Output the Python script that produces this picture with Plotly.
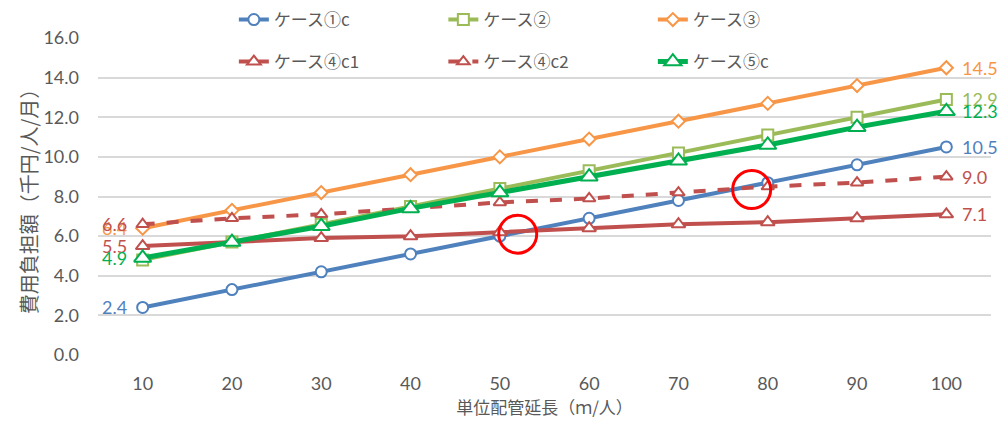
import plotly.graph_objects as go

# 単位配管延長 (m/人)
lengths = [10, 20, 30, 40, 50, 60, 70, 80, 90, 100]

# 費用負担額 (千円/人/月)
case1c = [2.4, 3.3, 4.2, 5.1, 6.0, 6.9, 7.8, 8.7, 9.6, 10.5]
case2 = [4.8, 5.7, 6.6, 7.5, 8.4, 9.3, 10.2, 11.1, 12.0, 12.9]
case3 = [6.4, 7.3, 8.2, 9.1, 10.0, 10.9, 11.8, 12.7, 13.6, 14.5]
case4c1 = [5.5, 5.7, 5.9, 6.0, 6.2, 6.4, 6.6, 6.7, 6.9, 7.1]
case4c2 = [6.6, 6.9, 7.1, 7.4, 7.7, 7.9, 8.2, 8.5, 8.7, 9.0]
case5c = [4.9, 5.7, 6.5, 7.4, 8.2, 9.0, 9.8, 10.6, 11.5, 12.3]

y_ticks = [0, 2, 4, 6, 8, 10, 12, 14, 16]

# 交点の目印 (x, y)
highlights = [(52, 6.1), (78.2, 8.35)]

BLUE = "#4F81BD"
LGREEN = "#9BBB59"
ORANGE = "#F79646"
RED = "#C0504D"
GREEN = "#00B050"
GREY = "#595959"

series = [
    # name, values, color, symbol, size, width, dash, legend, left label, right label
    ("ケース①c", case1c, BLUE, "circle", 11, 4, "solid", "legend", True, True),
    ("ケース②", case2, LGREEN, "square", 11, 4, "solid", "legend", False, True),
    ("ケース③", case3, ORANGE, "diamond", 10, 4, "solid", "legend", True, True),
    ("ケース④c1", case4c1, RED, "triangle-up", 12, 4, "solid", "legend2", True, True),
    ("ケース④c2", case4c2, RED, "triangle-up", 11, 4, "dash", "legend2", True, True),
    ("ケース⑤c", case5c, GREEN, "triangle-up", 15, 5, "solid", "legend2", True, True),
]

fig = go.Figure()
for name, vals, color, sym, size, width, dash, leg, lab_l, lab_r in series:
    fig.add_trace(go.Scatter(
        x=lengths, y=vals, name=name, mode="lines+markers",
        line=dict(color=color, width=width, dash=dash),
        marker=dict(symbol=sym, size=size, color="white",
                    line=dict(color=color, width=2)),
        legend=leg, cliponaxis=False,
    ))

# データラベル (始点は左、終点は右)
num_font = "Lato"
jp_font = "Noto Sans CJK JP"
for name, vals, color, sym, size, width, dash, leg, lab_l, lab_r in series:
    if lab_l:
        fig.add_annotation(x=lengths[0], y=vals[0], text=f"{vals[0]:.1f}",
                           showarrow=False, xanchor="right", xshift=-14,
                           font=dict(size=18, color=color, family=num_font))
    if lab_r:
        fig.add_annotation(x=lengths[-1], y=vals[-1], text=f"{vals[-1]:.1f}",
                           showarrow=False, xanchor="left", xshift=14,
                           font=dict(size=18, color=color, family=num_font))

for hx, hy in highlights:
    fig.add_shape(type="circle", xref="x", yref="y",
                  xsizemode="pixel", ysizemode="pixel",
                  xanchor=hx, yanchor=hy,
                  x0=-19, x1=19, y0=-19, y1=19,
                  line=dict(color="#FF0000", width=3))

legend_common = dict(
    orientation="h", xref="container", yref="container",
    xanchor="left", yanchor="middle", bgcolor="rgba(0,0,0,0)",
    font=dict(size=17, color=GREY, family=jp_font),
    entrywidth=164.5, entrywidthmode="pixels", itemwidth=30,
)

fig.update_layout(
    width=1008, height=423,
    paper_bgcolor="white", plot_bgcolor="white",
    margin=dict(l=98, r=17, t=38, b=68, autoexpand=False),
    font=dict(family=jp_font, color=GREY),
    legend=dict(x=0.232, y=1 - 20 / 423, **legend_common),
    legend2=dict(x=0.232, y=1 - 62 / 423, **legend_common),
    xaxis=dict(
        range=[5, 105], tickvals=lengths, ticktext=[str(v) for v in lengths],
        showgrid=False, zeroline=False, showline=False, ticks="",
        ticklabelstandoff=16,
        tickfont=dict(size=18, color=GREY, family=num_font),
        title=dict(text="単位配管延長（ｍ/人）", standoff=8,
                   font=dict(size=17, color=GREY, family=jp_font)),
    ),
    yaxis=dict(
        range=[0, 16], tickvals=y_ticks, ticktext=[f"{v:.1f}" for v in y_ticks],
        showgrid=True, gridcolor="#D9D9D9", gridwidth=1.5,
        zeroline=False, showline=False, ticks="",
        ticklabelstandoff=18,
        tickfont=dict(size=18, color=GREY, family=num_font),
        title=dict(text="費用負担額（千円/人/月）", standoff=0,
                   font=dict(size=20, color=GREY, family=jp_font)),
    ),
)

fig.write_html("out.html")
